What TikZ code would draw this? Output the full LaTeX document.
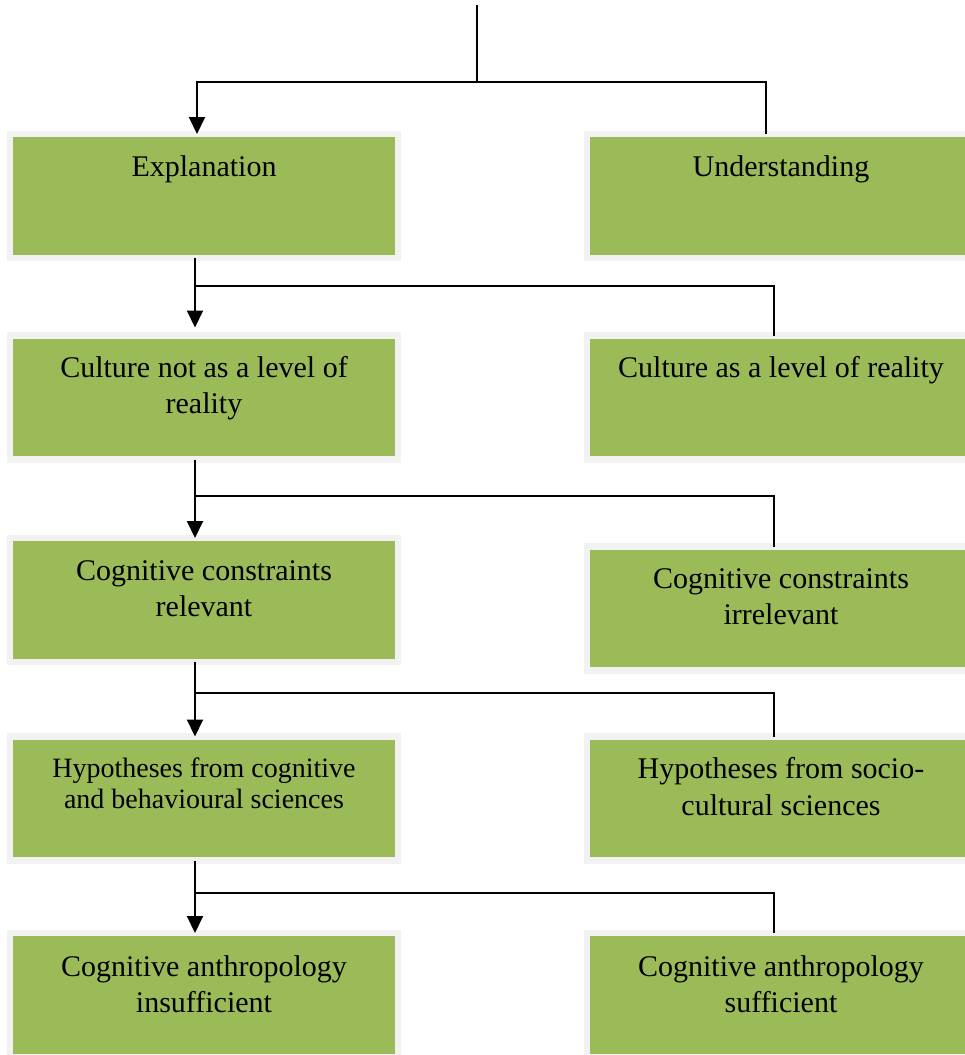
\documentclass[tikz,border=0pt]{standalone}
\usepackage{fontspec}
\setmainfont{Liberation Serif}
\usetikzlibrary{arrows.meta}
\definecolor{boxgreen}{HTML}{9BBB59}
\definecolor{boxrim}{HTML}{F2F2F2}
\tikzset{
  box/.style={rectangle, draw=boxrim, fill=boxgreen, line width=6.5pt,
    minimum width=388pt, minimum height=124pt, inner sep=0pt, outer sep=0pt},
  lbl/.style={anchor=north, align=center, inner sep=0pt, text=black,
    font=\fontsize{30}{36}\selectfont},
  conn/.style={line width=2pt, draw=black},
  arr/.style={conn, -{Triangle[length=17pt,width=16pt]}},
}
\begin{document}
\begin{tikzpicture}[x=1pt,y=-1pt]
\useasboundingbox (0,0) rectangle (965,1055);
\clip (0,0) rectangle (965,1055);
% boxes
\node[box] (L1) at (204,196) {};
\node[box] (R1) at (781,196) {};
\node[box] (L2) at (204,397.5) {};
\node[box] (R2) at (781,397.5) {};
\node[box] (L3) at (204,600) {};
\node[box] (R3) at (781,608.5) {};
\node[box] (L4) at (204,798.5) {};
\node[box] (R4) at (781,798.5) {};
\node[box] (L5) at (204,995) {};
\node[box] (R5) at (781,995) {};
% labels (first baseline about 39pt below green top)
\node[lbl] (tL1) at (204,151) {\strut Explanation};
\node[lbl] (tR1) at (781,151) {\strut Understanding};
\node[lbl] (tL2) at (204,352) {\strut Culture not as a level of\\reality};
\node[lbl] (tR2) at (781,352) {\strut Culture as a level of reality};
\node[lbl] (tL3) at (204,555) {\strut Cognitive constraints\\relevant};
\node[lbl] (tR3) at (781,563) {\strut Cognitive constraints\\irrelevant};
\node[lbl, font=\fontsize{28}{31}\selectfont] (tL4) at (204,755.3) {\strut Hypotheses from cognitive\\and behavioural sciences};
\node[lbl, font=\fontsize{30}{37}\selectfont] (tR4) at (781,752.1) {\strut Hypotheses from socio-\\cultural sciences};
\node[lbl] (tL5) at (204,951) {\strut Cognitive anthropology\\insufficient};
\node[lbl] (tR5) at (781,951) {\strut Cognitive anthropology\\sufficient};
% connectors
\coordinate (top) at (477,5);
\coordinate (j1) at (477,82);
\coordinate (j2) at (195,286);
\coordinate (j3) at (195,496);
\coordinate (j4) at (195,693);
\coordinate (j5) at (195,893);
\draw[conn] (top) -- (j1);
\draw[arr] (j1) -| ([xshift=-7pt]L1.north);
\draw[conn] (j1) -| ([xshift=-15pt]R1.north);
\draw[arr, shorten >=8pt] ([xshift=-9pt]L1.south) -- ([xshift=-9pt]L2.north);
\draw[conn] (j2) -| ([xshift=-7pt]R2.north);
\draw[arr] ([xshift=-9pt]L2.south) -- ([xshift=-9pt]L3.north);
\draw[conn] (j3) -| ([xshift=-7pt]R3.north);
\draw[arr] ([xshift=-9pt]L3.south) -- ([xshift=-9pt]L4.north);
\draw[conn] (j4) -| ([xshift=-7pt]R4.north);
\draw[arr] ([xshift=-9pt]L4.south) -- ([xshift=-9pt]L5.north);
\draw[conn] (j5) -| ([xshift=-7pt]R5.north);
\end{tikzpicture}
\end{document}
